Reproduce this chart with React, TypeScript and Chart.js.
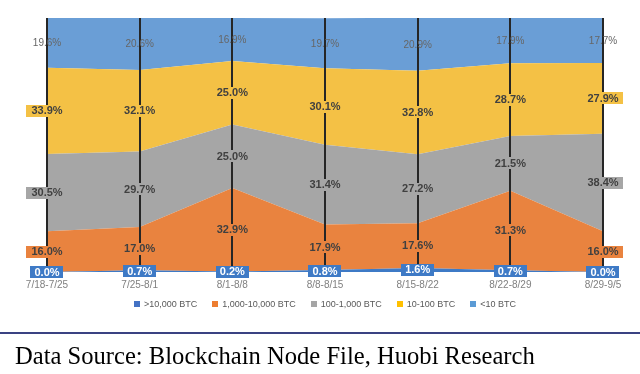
import React, { useEffect, useRef } from 'react';
import { Chart, registerables } from 'chart.js';

Chart.register(...registerables);

const categories = ['7/18-7/25', '7/25-8/1', '8/1-8/8', '8/8-8/15', '8/15-8/22', '8/22-8/29', '8/29-9/5'];
const seriesNames = ['>10,000 BTC', '1,000-10,000 BTC', '100-1,000 BTC', '10-100 BTC', '<10 BTC'];
const over10000 = [0.0, 0.7, 0.2, 0.8, 1.6, 0.7, 0.0];
const from1000to10000 = [16.0, 17.0, 32.9, 17.9, 17.6, 31.3, 16.0];
const from100to1000 = [30.5, 29.7, 25.0, 31.4, 27.2, 21.5, 38.4];
const from10to100 = [33.9, 32.1, 25.0, 30.1, 32.8, 28.7, 27.9];
const under10 = [19.6, 20.6, 16.9, 19.7, 20.9, 17.9, 17.7];
const seriesValues = [over10000, from1000to10000, from100to1000, from10to100, under10];

const areaColors = ['#3E7AC6', '#E9833F', '#A6A6A6', '#F4C145', '#6A9ED6'];
const legendColors = ['#4472C4', '#ED7D31', '#A5A5A5', '#FFC000', '#5B9BD5'];
const labelBoxColors = ['#3E7AC6', '#E9833F', '#A6A6A6', '#F4C145', null];
const labelTextColors = ['#FFFFFF', '#404040', '#404040', '#404040', '#666666'];

const FONT = '"Liberation Sans", Arial, sans-serif';

const overlayPlugin = {
  id: 'overlay',
  afterDatasetsDraw(chart: any) {
    const { ctx, chartArea, scales } = chart;
    const x = scales.x;
    const y = scales.y;
    ctx.save();
    ctx.strokeStyle = '#262626';
    ctx.lineWidth = 2;
    categories.forEach((_, i) => {
      const px = Math.round(x.getPixelForValue(i));
      ctx.beginPath();
      ctx.moveTo(px, chartArea.top);
      ctx.lineTo(px, chartArea.bottom);
      ctx.stroke();
    });
    chart.data.datasets.forEach((ds: any, di: number) => {
      const meta = chart.getDatasetMeta(di);
      const prev = di > 0 ? chart.getDatasetMeta(di - 1) : null;
      meta.data.forEach((pt: any, i: number) => {
        const top = pt.y;
        const bottom = prev ? prev.data[i].y : y.getPixelForValue(0);
        const cy = (top + bottom) / 2;
        const cx = pt.x;
        const text = Number(ds.data[i]).toFixed(1) + '%';
        const box = labelBoxColors[di];
        if (box) {
          ctx.font = 'bold 11px ' + FONT;
          const w = ctx.measureText(text).width;
          const padX = di === 0 ? 4 : 5;
          ctx.fillStyle = box;
          ctx.fillRect(Math.round(cx - w / 2 - padX), Math.round(cy - 6), Math.round(w + padX * 2), 12);
        } else {
          ctx.font = '10px ' + FONT;
        }
        ctx.fillStyle = labelTextColors[di];
        ctx.textAlign = 'center';
        ctx.textBaseline = 'middle';
        ctx.fillText(text, cx, cy + 0.5);
      });
    });
    ctx.restore();
  },
  afterDraw(chart: any) {
    const { ctx } = chart;
    ctx.save();
    ctx.font = '9px ' + FONT;
    const box = 6;
    const gapText = 4;
    const gapItem = 15;
    const widths = seriesNames.map((n) => box + gapText + ctx.measureText(n).width);
    const total = widths.reduce((a, b) => a + b, 0) + gapItem * (widths.length - 1);
    let cur = 325 - total / 2;
    const cy = 304;
    seriesNames.forEach((n, i) => {
      ctx.fillStyle = legendColors[i];
      ctx.fillRect(Math.round(cur), cy - 3, box, box);
      ctx.fillStyle = '#595959';
      ctx.textAlign = 'left';
      ctx.textBaseline = 'middle';
      ctx.fillText(n, cur + box + gapText, cy + 0.5);
      cur += widths[i] + gapItem;
    });
    ctx.restore();
  },
};

export default function App() {
  const ref = useRef<HTMLCanvasElement>(null);
  useEffect(() => {
    if (!ref.current) return;
    const chart = new Chart(ref.current, {
      type: 'line',
      data: {
        labels: categories,
        datasets: seriesValues.map((vals, i) => ({
          label: seriesNames[i],
          data: vals,
          fill: i === 0 ? 'origin' : '-1',
          backgroundColor: areaColors[i],
          borderColor: areaColors[i],
          borderWidth: 0,
          pointRadius: 0,
          tension: 0,
        })),
      },
      options: {
        responsive: false,
        animation: false,
        layout: { padding: { left: 47, right: 37, top: 18, bottom: 76 } },
        plugins: { legend: { display: false }, tooltip: { enabled: false } },
        scales: {
          x: {
            type: 'category',
            offset: false,
            grid: { display: false, drawTicks: false, tickLength: 0 },
            border: { display: false },
            ticks: {
              color: '#808080',
              font: { size: 10, family: FONT },
              padding: 7,
              maxRotation: 0,
              autoSkip: false,
            },
          },
          y: { stacked: true, min: 0, max: 100, display: false },
        },
      },
      plugins: [overlayPlugin],
    });
    return () => chart.destroy();
  }, []);
  return (
    <div style={{ position: 'absolute', left: 0, top: 0, width: 640, height: 374, background: '#fff', overflow: 'hidden' }}>
      <canvas ref={ref} width={640} height={374} style={{ position: 'absolute', left: 0, top: 0, width: 640, height: 374 }} />
      <div style={{ position: 'absolute', left: 0, top: 332, width: 640, height: 0, borderTop: '2px solid #3A4282' }} />
      <div
        style={{
          position: 'absolute',
          left: 15,
          top: 344,
          fontFamily: '"Liberation Serif", "Times New Roman", serif',
          fontSize: 24.6,
          lineHeight: '24px',
          color: '#000',
          whiteSpace: 'nowrap',
        }}
      >
        Data Source: Blockchain Node File, Huobi Research
      </div>
    </div>
  );
}
